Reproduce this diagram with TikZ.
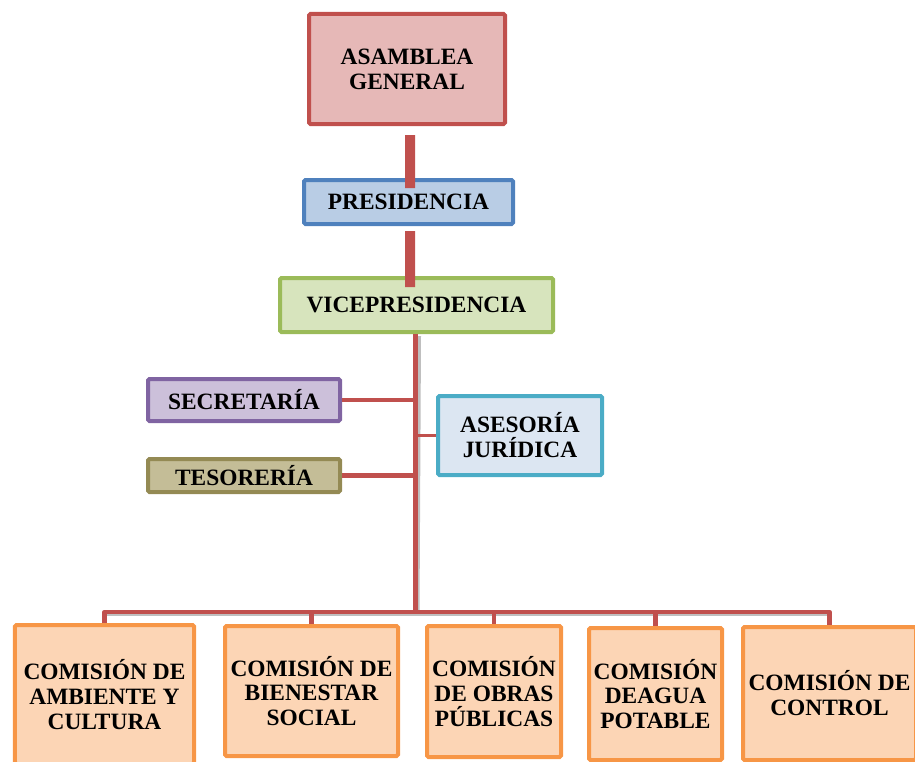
\documentclass[tikz,border=0pt]{standalone}
\usepackage{fontspec}
\setmainfont{Liberation Serif}
\usetikzlibrary{calc}
\definecolor{lred}{HTML}{C0504D}
\definecolor{asamf}{HTML}{E6B8B7}
\definecolor{presd}{HTML}{4F81BD}
\definecolor{presf}{HTML}{B9CDE5}
\definecolor{vicd}{HTML}{9BBB59}
\definecolor{vicf}{HTML}{D7E4BD}
\definecolor{secd}{HTML}{8064A2}
\definecolor{secf}{HTML}{CCC0DA}
\definecolor{tesd}{HTML}{948A54}
\definecolor{tesf}{HTML}{C4BD97}
\definecolor{asd}{HTML}{4BACC6}
\definecolor{asf}{HTML}{DCE6F2}
\definecolor{comd}{HTML}{F79646}
\definecolor{comf}{HTML}{FCD5B5}
\tikzset{
  orgbox/.style={draw, line width=4bp, rounded corners=1.5bp, align=center, inner sep=0pt,
    font=\fontsize{23.5}{25}\selectfont\bfseries, text=black},
  combox/.style={orgbox, draw=comd, fill=comf},
  thickcon/.style={draw=lred, line width=10bp},
  trunk/.style={draw=lred, line width=5bp},
  shadowline/.style={draw=black!25, line width=5bp},
}
\begin{document}
\begin{tikzpicture}[x=1bp,y=-1bp]
\useasboundingbox (0,0) rectangle (915,762);
% nodes
\node[orgbox, draw=lred, fill=asamf, minimum width=196bp, minimum height=110bp] (asam) at (407,69) {ASAMBLEA\\GENERAL};
\node[orgbox, draw=presd, fill=presf, minimum width=209bp, minimum height=44bp] (pres) at (408.5,202) {PRESIDENCIA};
\node[orgbox, draw=vicd, fill=vicf, minimum width=273bp, minimum height=54bp] (vice) at (416.5,305) {VICEPRESIDENCIA};
% trunk shadow and trunk
\coordinate (busy) at (415,612);
\draw[shadowline] ($(vice.south)+(2,2)$) -- ($(busy)+(2,2)$);
\draw[trunk] (vice.south -| busy) -- (busy);
\node[orgbox, draw=secd, fill=secf, minimum width=192bp, minimum height=42bp] (sec) at (244,400) {SECRETARÍA};
\node[orgbox, draw=tesd, fill=tesf, minimum width=192bp, minimum height=33bp] (tes) at (244,475.5) {TESORERÍA};
\node[orgbox, draw=asd, fill=asf, minimum width=164bp, minimum height=79bp] (ases) at (520,435.5) {ASESORÍA\\JURÍDICA};
\draw[trunk, line width=4.5bp] (sec.east) -- (sec.east -| busy);
\draw[trunk, line width=4.5bp] (tes.east) -- (tes.east -| busy);
\draw[draw=lred, line width=2.2bp] (ases.west) -- ($(ases.west -| busy)+(2,0)$);
% bottom boxes
\node[combox, minimum width=179bp, minimum height=139bp] (c1) at (104.5,694.5) {COMISIÓN DE\\AMBIENTE Y\\CULTURA};
\node[combox, minimum width=173bp, minimum height=130bp] (c2) at (311.5,691) {COMISIÓN DE\\BIENESTAR\\SOCIAL};
\node[combox, minimum width=134bp, minimum height=131bp] (c3) at (494,691.5) {COMISIÓN\\DE OBRAS\\PÚBLICAS};
\node[combox, minimum width=133bp, minimum height=132bp] (c4) at (655.5,694) {COMISIÓN\\DEAGUA\\POTABLE};
\node[combox, minimum width=173bp, minimum height=133bp] (c5) at (829.5,693.5) {COMISIÓN DE\\CONTROL};
% bus
\draw[shadowline, line width=4bp] (104,614) -- (831,614);
\draw[trunk, line width=4.5bp, line join=round] (c1.north) -- (c1.north |- busy) -- (c5.north |- busy) -- (c5.north);
\foreach \c in {c2,c3,c4}{
  \draw[trunk, line width=4.5bp] (\c.north |- busy) -- (\c.north);
}
% top thick connectors
\draw[thickcon] ($(asam.south)+(3,9)$) -- ($(pres.north)+(1.5,10)$);
\draw[thickcon] ($(pres.south)+(1.5,5)$) -- ($(vice.north)+(-6.5,11)$);
\end{tikzpicture}
\end{document}
